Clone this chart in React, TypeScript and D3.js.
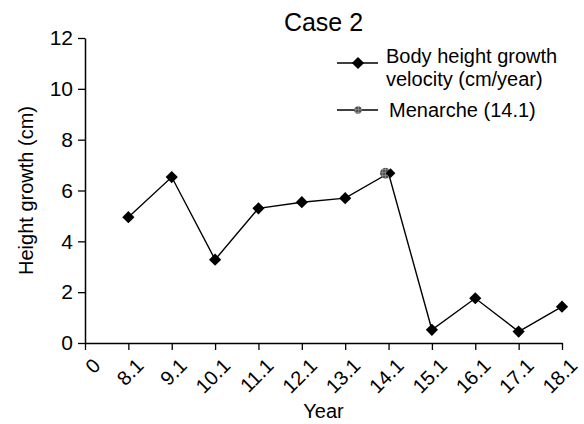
import React, { useEffect, useRef } from 'react';
import * as d3 from 'd3';

// Data
const years = ['0', '8.1', '9.1', '10.1', '11.1', '12.1', '13.1', '14.1', '15.1', '16.1', '17.1', '18.1'];
const velocityYears = ['8.1', '9.1', '10.1', '11.1', '12.1', '13.1', '14.1', '15.1', '16.1', '17.1', '18.1'];
const velocity = [4.95, 6.53, 3.28, 5.3, 5.54, 5.7, 6.68, 0.52, 1.76, 0.45, 1.43];
const menarcheYear = '14.1';
const menarcheValue = 6.68;
const yTicks = [0, 2, 4, 6, 8, 10, 12];

const FONT = '"Liberation Sans", Arial, Helvetica, sans-serif';

const App: React.FC = () => {
  const svgRef = useRef<SVGSVGElement>(null);

  useEffect(() => {
    if (!svgRef.current) return;
    const width = 584;
    const height = 424;
    const margin = { top: 38, right: 22, bottom: 81, left: 85 };

    const svg = d3.select(svgRef.current);
    svg.selectAll('*').remove();

    const defs = svg.append('defs');
    const pat = defs.append('pattern')
      .attr('id', 'hatch')
      .attr('width', 3).attr('height', 3)
      .attr('patternUnits', 'userSpaceOnUse');
    pat.append('rect').attr('width', 3).attr('height', 3).attr('fill', '#505050');
    pat.append('path').attr('d', 'M0,1.5H3M1.5,0V3').attr('stroke', '#9a9a9a').attr('stroke-width', 0.6);

    const x = d3.scalePoint<string>()
      .domain(years)
      .range([margin.left, width - margin.right]);

    const y = d3.scaleLinear()
      .domain([0, 12])
      .range([height - margin.bottom, margin.top]);

    // y axis
    const yAxis = svg.append('g')
      .attr('transform', `translate(${margin.left},0)`)
      .call(d3.axisLeft(y).tickValues(yTicks).tickSize(7).tickSizeOuter(0).tickPadding(5));
    yAxis.select('.domain').attr('stroke', '#000').attr('stroke-width', 1.5);
    yAxis.selectAll('.tick line').attr('stroke', '#000').attr('stroke-width', 1.3);
    yAxis.selectAll('.tick text')
      .attr('font-family', FONT).attr('font-size', 21).attr('fill', '#000');

    // x axis
    const xAxis = svg.append('g')
      .attr('transform', `translate(0,${height - margin.bottom})`)
      .call(d3.axisBottom(x).tickSize(7).tickSizeOuter(0));
    xAxis.select('.domain').attr('stroke', '#000').attr('stroke-width', 1.5);
    xAxis.selectAll('.tick line').attr('stroke', '#000').attr('stroke-width', 1.3);
    xAxis.selectAll('.tick text')
      .attr('font-family', FONT).attr('font-size', 20).attr('fill', '#000')
      .attr('text-anchor', 'end')
      .attr('dy', 0)
      .attr('y', 0)
      .attr('transform', 'translate(16,24) rotate(-45)');

    // line
    const line = d3.line<number>()
      .x((_, i) => x(velocityYears[i]) as number)
      .y(d => y(d));

    svg.append('path')
      .datum(velocity)
      .attr('fill', 'none')
      .attr('stroke', '#000')
      .attr('stroke-width', 1.4)
      .attr('d', line);

    const diamond = d3.symbol().type(d3.symbolDiamond2).size(95);

    // menarche marker (behind, slightly left)
    svg.append('circle')
      .attr('cx', (x(menarcheYear) as number) - 3)
      .attr('cy', y(menarcheValue))
      .attr('r', 5.5)
      .attr('fill', 'url(#hatch)');

    svg.append('g')
      .selectAll('path')
      .data(velocity)
      .join('path')
      .attr('d', (d, i) => (velocityYears[i] === menarcheYear ? d3.symbol().type(d3.symbolDiamond2).size(60)() : diamond()) as string)
      .attr('transform', (d, i) => `translate(${(x(velocityYears[i]) as number) + (velocityYears[i] === menarcheYear ? 2 : 0)},${y(d)})`)
      .attr('fill', '#000');

    // titles
    const cx = (margin.left + width - margin.right) / 2;
    svg.append('text')
      .attr('x', cx).attr('y', 31)
      .attr('text-anchor', 'middle')
      .attr('font-family', FONT).attr('font-size', 25)
      .text('Case 2');

    svg.append('text')
      .attr('x', cx).attr('y', 418)
      .attr('text-anchor', 'middle')
      .attr('font-family', FONT).attr('font-size', 20)
      .text('Year');

    svg.append('text')
      .attr('transform', `translate(33,${(margin.top + height - margin.bottom) / 2}) rotate(-90)`)
      .attr('text-anchor', 'middle')
      .attr('font-family', FONT).attr('font-size', 20)
      .text('Height growth (cm)');

    // legend
    const lg = svg.append('g').attr('font-family', FONT).attr('font-size', 20);
    lg.append('line').attr('x1', 337).attr('x2', 378).attr('y1', 63).attr('y2', 63)
      .attr('stroke', '#000').attr('stroke-width', 1.4);
    lg.append('path').attr('d', diamond() as string).attr('transform', 'translate(358,63)');
    lg.append('text').attr('x', 386).attr('y', 63).text('Body height growth');
    lg.append('text').attr('x', 386).attr('y', 86).text('velocity (cm/year)');

    lg.append('line').attr('x1', 337).attr('x2', 378).attr('y1', 110).attr('y2', 110)
      .attr('stroke', '#000').attr('stroke-width', 1.4);
    lg.append('circle').attr('cx', 358).attr('cy', 110).attr('r', 3.8).attr('fill', 'url(#hatch)');
    lg.append('text').attr('x', 389).attr('y', 117).text('Menarche (14.1)');
  }, []);

  return (
    <div style={{ position: 'absolute', left: 0, top: 0, background: '#fff' }}>
      <svg ref={svgRef} width={584} height={424} style={{ display: 'block' }} />
    </div>
  );
};

export default App;
